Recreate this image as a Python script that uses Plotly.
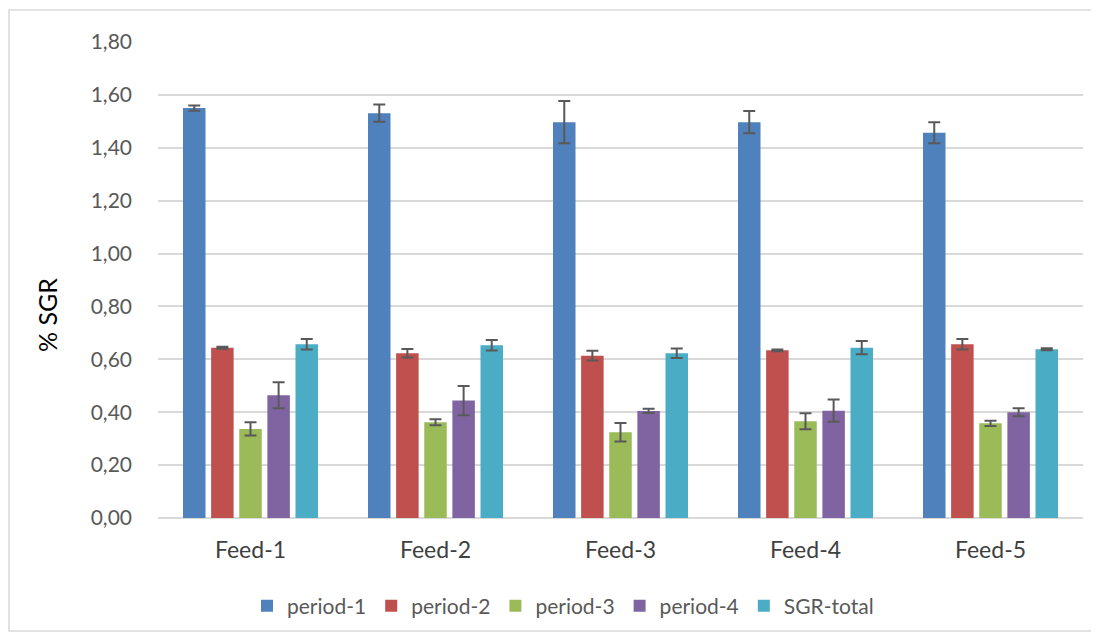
import plotly.graph_objects as go

categories = ["Feed-1", "Feed-2", "Feed-3", "Feed-4", "Feed-5"]
series_names = ["period-1", "period-2", "period-3", "period-4", "SGR-total"]
period1 = [1.550, 1.531, 1.497, 1.497, 1.457]
period2 = [0.644, 0.623, 0.614, 0.634, 0.657]
period3 = [0.337, 0.362, 0.324, 0.366, 0.358]
period4 = [0.464, 0.444, 0.405, 0.406, 0.400]
sgr_total = [0.657, 0.653, 0.623, 0.644, 0.638]
err1 = [0.010, 0.033, 0.080, 0.042, 0.040]
err2 = [0.004, 0.016, 0.018, 0.003, 0.020]
err3 = [0.025, 0.011, 0.035, 0.030, 0.010]
err4 = [0.049, 0.055, 0.008, 0.042, 0.015]
err5 = [0.020, 0.020, 0.018, 0.025, 0.004]
colors = ["#4F81BD", "#C0504D", "#9BBB59", "#8064A2", "#4BACC6"]
y_ticks = [0, 0.2, 0.4, 0.6, 0.8, 1.0, 1.2, 1.4, 1.6, 1.8]

values = [period1, period2, period3, period4, sgr_total]
errors = [err1, err2, err3, err4, err5]

FONT = "Lato, Carlito, 'Open Sans', sans-serif"

fig = go.Figure()
for name, vals, errs, col in zip(series_names, values, errors, colors):
    fig.add_trace(go.Bar(
        x=categories, y=vals, name=name,
        marker=dict(color=col, line=dict(width=0)),
        error_y=dict(type="data", array=errs, visible=True,
                     color="#595959", thickness=2, width=6),
    ))

# page body has an 8px margin; figure occupies (8..1099, 8..638) of window
OFF = 8
W, H = 1091, 630
L, R, T, B = 158 - OFF, 16, 42 - OFF, 120
pw, ph = W - L - R, H - T - B


def px_x(p):
    return (p - OFF - L) / pw


def px_y(p):
    return (H - B - (p - OFF)) / ph


fig.update_layout(
    width=W, height=H,
    margin=dict(l=L, r=R, t=T, b=B),
    paper_bgcolor="white", plot_bgcolor="white",
    separators=",.",
    barmode="group", bargap=0.24, bargroupgap=0.2,
    font=dict(family=FONT, color="#595959"),
    showlegend=True,
    legend=dict(orientation="h", x=px_x(563), xanchor="center",
                y=px_y(606), yanchor="middle",
                font=dict(size=21, color="#595959", family=FONT),
                itemwidth=30, traceorder="normal"),
    xaxis=dict(showgrid=False, showline=False, zeroline=False,
               tickfont=dict(size=23, color="#404040", family=FONT),
               ticklabelstandoff=16, fixedrange=True),
    yaxis=dict(range=[0, 1.8], tickvals=y_ticks, tickformat=".2f",
               showgrid=True, gridcolor="#D9D9D9", gridwidth=1.5,
               zeroline=True, zerolinecolor="#D9D9D9", zerolinewidth=1.5,
               showline=False,
               tickfont=dict(size=21, color="#595959", family=FONT),
               ticklabelstandoff=25, automargin=False),
    annotations=[dict(text="% SGR", textangle=-90, showarrow=False,
                      xref="paper", yref="paper", x=px_x(47), y=px_y(315),
                      xanchor="center", yanchor="middle",
                      font=dict(size=25, color="#000000", family=FONT))],
    shapes=[dict(type="rect", xref="paper", yref="paper",
                 x0=px_x(9), x1=px_x(1094), y0=px_y(631), y1=px_y(10),
                 line=dict(color="#D9D9D9", width=1.5), layer="below")],
)

fig.write_html("out.html")
